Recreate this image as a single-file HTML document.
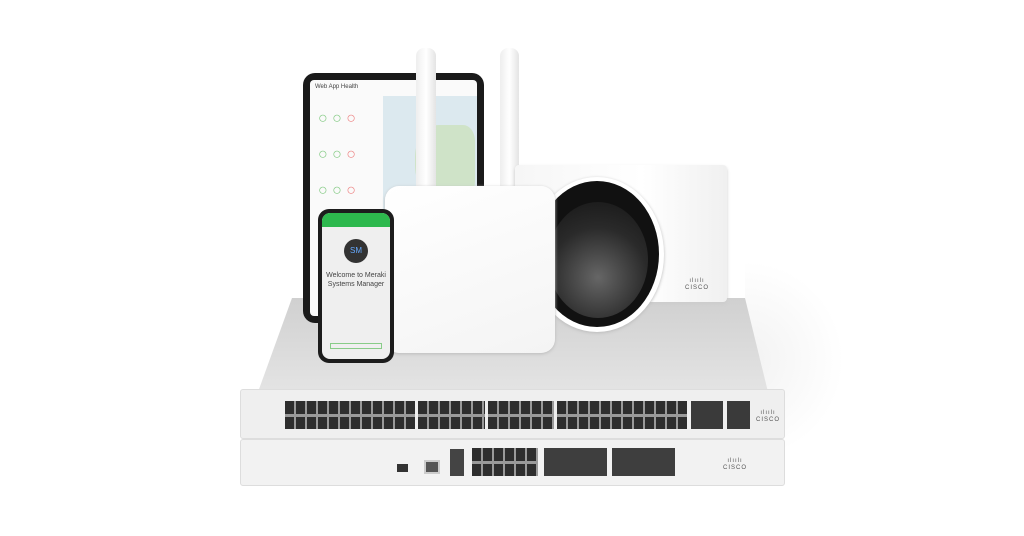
<!DOCTYPE html>
<html><head><meta charset="utf-8"><style>
*{margin:0;padding:0;box-sizing:border-box}
body{width:1024px;height:536px;background:#fff;position:relative;overflow:hidden;font-family:"Liberation Sans",sans-serif}
.a{position:absolute}
.cisco{font-size:6px;color:#555;text-align:center;letter-spacing:1px;line-height:7px}
.ports{background-color:#2e2e2e;background-image:repeating-linear-gradient(90deg,transparent 0 9px,#9a9a9a 9px 11px),linear-gradient(180deg,transparent 0 13px,#9a9a9a 13px 16px,transparent 16px)}
</style></head><body>
<!-- shadow -->
<div class="a" style="left:745px;top:260px;width:100px;height:200px;background:radial-gradient(ellipse at left,#f2f2f2 0%,#fff 70%)"></div>
<svg class="a" style="left:0;top:0" width="1024" height="536">
<defs><linearGradient id="g" x1="0" y1="0" x2="0" y2="1"><stop offset="0" stop-color="#d0d0d0"/><stop offset="1" stop-color="#e4e4e4"/></linearGradient></defs>
<polygon points="292,298 745,298 768,392 258,392" fill="url(#g)"/>
</svg>
<!-- tablet -->
<div class="a" style="left:303px;top:73px;width:181px;height:250px;background:#1a1a1a;border-radius:12px"></div>
<div class="a" style="left:310px;top:80px;width:167px;height:236px;background:#fafafa;border-radius:4px;overflow:hidden">
 <div style="font-size:6px;color:#444;padding:4px 5px">Web App Health</div>
 <div class="a" style="left:73px;top:16px;width:94px;height:150px;background:#dce9ef"></div>
 <div class="a" style="left:105px;top:45px;width:60px;height:80px;background:#cfe3c8;border-radius:40% 20% 30% 50%"></div>
 <div class="a" style="left:8px;top:30px;width:55px;height:30px;color:#8c8">○ ○ <span style="color:#e88">○</span></div>
 <div class="a" style="left:8px;top:66px;width:55px;height:30px;color:#8c8">○ ○ <span style="color:#e88">○</span></div>
 <div class="a" style="left:8px;top:102px;width:55px;height:30px;color:#8c8">○ ○ <span style="color:#e88">○</span></div>
</div>
<!-- antennas -->
<div class="a" style="left:416px;top:48px;width:20px;height:150px;background:linear-gradient(90deg,#eee,#fff,#e4e4e4);border-radius:8px 8px 0 0"></div>
<div class="a" style="left:500px;top:48px;width:19px;height:140px;background:linear-gradient(90deg,#eee,#fff,#e4e4e4);border-radius:8px 8px 0 0"></div>
<!-- camera -->
<div class="a" style="left:515px;top:165px;width:212px;height:137px;background:linear-gradient(90deg,#f6f6f6,#fff 60%,#f0f0f0);border-radius:4px;box-shadow:0 2px 3px #ccc"></div>
<div class="a cisco" style="left:682px;top:278px;width:30px">ılıılı<br>CISCO</div>
<div class="a" style="left:530px;top:177px;width:134px;height:155px;border-radius:50%;background:#fff;box-shadow:0 1px 3px #bbb"></div>
<div class="a" style="left:535px;top:181px;width:124px;height:146px;border-radius:50%;background:#111"></div>
<div class="a" style="left:548px;top:202px;width:100px;height:116px;border-radius:50%;background:radial-gradient(circle at 50% 65%,#666,#2a2a2a 55%,#151515)"></div>
<!-- AP -->
<div class="a" style="left:385px;top:186px;width:170px;height:167px;background:linear-gradient(160deg,#fff,#f4f4f4);border-radius:14px;box-shadow:0 1px 3px #bbb"></div>
<!-- phone -->
<div class="a" style="left:318px;top:209px;width:76px;height:154px;background:#1c1c1c;border-radius:11px"></div>
<div class="a" style="left:322px;top:213px;width:68px;height:146px;background:#efefef;border-radius:8px;overflow:hidden">
 <div style="height:14px;background:#2db84d"></div>
 <div class="a" style="left:22px;top:26px;width:24px;height:24px;border-radius:50%;background:#333;color:#6af;font-size:8px;text-align:center;line-height:24px">SM</div>
 <div class="a" style="left:0;top:58px;width:68px;font-size:7px;color:#444;text-align:center;line-height:9px">Welcome to Meraki<br>Systems Manager</div>
 <div class="a" style="left:8px;top:130px;width:52px;height:6px;border:1px solid #8c8"></div>
</div>
<!-- switch 1 -->
<div class="a" style="left:240px;top:389px;width:545px;height:50px;background:#efefef;border:1px solid #ddd;border-radius:3px"></div>
<div class="a ports" style="left:285px;top:401px;width:130px;height:28px"></div>
<div class="a ports" style="left:418px;top:401px;width:67px;height:28px"></div>
<div class="a ports" style="left:488px;top:401px;width:66px;height:28px"></div>
<div class="a ports" style="left:557px;top:401px;width:130px;height:28px"></div>
<div class="a" style="left:691px;top:401px;width:32px;height:28px;background:#3a3a3a"></div>
<div class="a" style="left:727px;top:401px;width:23px;height:28px;background:#3a3a3a"></div>
<div class="a cisco" style="left:755px;top:410px;width:26px">ılıılı<br>CISCO</div>
<!-- switch 2 -->
<div class="a" style="left:240px;top:439px;width:545px;height:47px;background:#f2f2f2;border:1px solid #ddd;border-radius:3px"></div>
<div class="a" style="left:397px;top:464px;width:11px;height:8px;background:#333"></div>
<div class="a" style="left:424px;top:460px;width:16px;height:14px;background:#555;border:2px solid #ccc"></div>
<div class="a" style="left:450px;top:449px;width:14px;height:27px;background:#444"></div>
<div class="a ports" style="left:472px;top:448px;width:66px;height:28px"></div>
<div class="a" style="left:544px;top:448px;width:63px;height:28px;background:#3e3e3e"></div>
<div class="a" style="left:612px;top:448px;width:63px;height:28px;background:#3e3e3e"></div>
<div class="a cisco" style="left:722px;top:458px;width:26px">ılıılı<br>CISCO</div>
</body></html>
